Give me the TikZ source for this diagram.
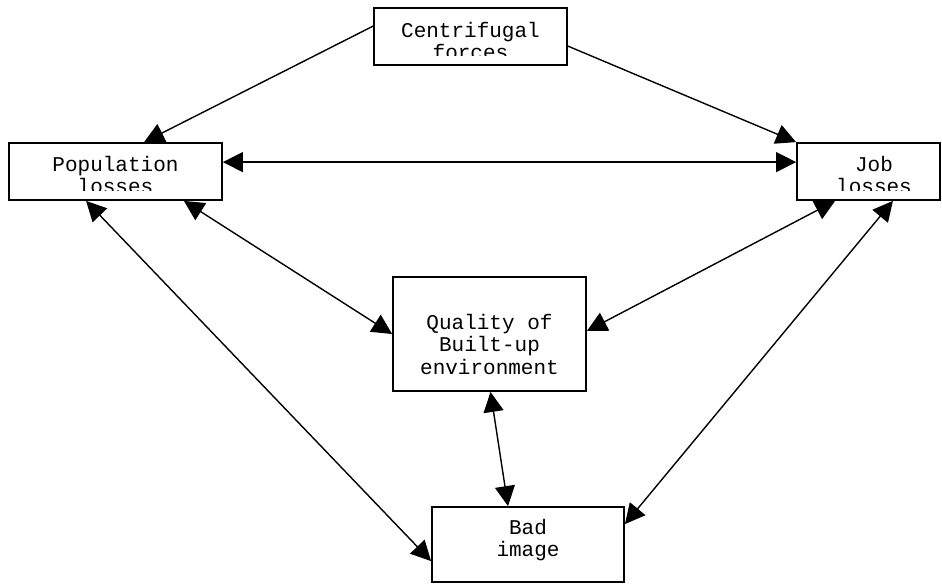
\documentclass[tikz,border=0pt]{standalone}
\usepackage{fontspec}
\setmonofont{Liberation Mono}
\usetikzlibrary{arrows.meta}
\tikzset{
  box/.style={draw, line width=1.8pt, inner sep=0pt},
  boxtext/.style={font=\ttfamily\fontsize{21}{22.5}\selectfont, align=center, anchor=base, inner sep=0pt},
  oneway/.style={line width=1.4pt, -{Triangle[length=20pt,width=20pt]}},
  twoway/.style={line width=1.4pt, {Triangle[length=20pt,width=20pt]}-{Triangle[length=20pt,width=20pt]}},
}
\begin{document}
\begin{tikzpicture}[x=1pt,y=-1pt]
      \useasboundingbox (0,0) rectangle (942,584);
      \draw
        (470.5,36.5) node[box, minimum width=193pt, minimum height=57pt] (cf){}
        (115.5,171.5) node[box, minimum width=213pt, minimum height=57pt] (pop){}
        (868.5,171.5) node[box, minimum width=143pt, minimum height=57pt] (job){}
        (489.5,334) node[box, minimum width=193pt, minimum height=114pt] (qual){}
        (528,544.5) node[box, minimum width=192pt, minimum height=75pt] (bad){};
      \begin{scope}
        \clip (cf.north west) rectangle ([yshift=10pt]cf.south east);
        \node[boxtext] (cftext) at (470.5,59.5) {Centrifugal\\forces};
      \end{scope}
      \begin{scope}
        \clip (pop.north west) rectangle ([yshift=10pt]pop.south east);
        \node[boxtext] (poptext) at (115.5,193.5) {Population\\losses};
      \end{scope}
      \begin{scope}
        \clip (job.north west) rectangle ([yshift=10pt]job.south east);
        \node[boxtext] (jobtext) at (874,193.5) {Job\\losses};
      \end{scope}
      \node[boxtext] (qualtext) at (489.5,374) {Quality of\\Built-up\\environment};
      \node[boxtext] (badtext) at (528,556.5) {Bad\\image};
      \begin{scope}[oneway]
        \draw ([yshift=-19pt]cf.north west) to ([xshift=136pt]pop.north west);
        \draw ([yshift=-39pt]cf.north east) to (job.north west);
      \end{scope}
      \begin{scope}[twoway]
        \draw ([yshift=-20pt]pop.north east) to ([yshift=-20pt]job.north west);
        \draw ([xshift=-39pt]pop.south east) to (qual.west);
        \draw ([xshift=39pt]job.south west) to ([yshift=3pt]qual.east);
        \draw ([xshift=78pt]pop.south west) to ([yshift=-55pt]bad.north west);
        \draw ([xshift=-48pt]job.south east) to ([yshift=-18pt]bad.north east);
        \draw ([xshift=1pt]qual.south) to ([xshift=-20pt]bad.north);
      \end{scope}
    \end{tikzpicture}
\end{document}
